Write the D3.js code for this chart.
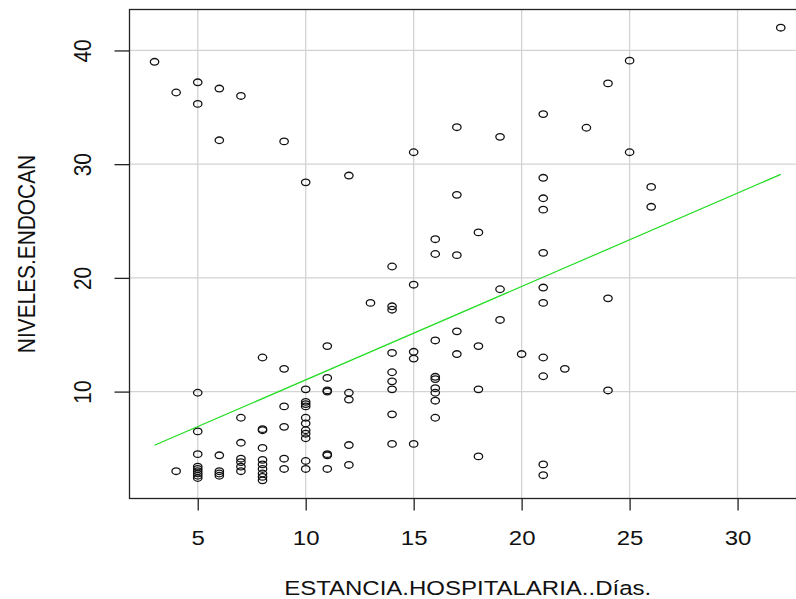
<!DOCTYPE html>
<html>
<head>
<meta charset="utf-8">
<script src="https://cdn.jsdelivr.net/npm/d3@7"></script>
<style>
  body { margin: 0; background: #fff; }
  svg { display: block; }
  text { font-family: "Liberation Sans", Arial, sans-serif; fill: #111; }
</style>
</head>
<body>
<div class="chart"></div>
<script>
// Estancia hospitalaria (días) vs niveles de endocan
var estancia = [
  3,
  4, 4,
  5, 5, 5, 5, 5, 5, 5, 5, 5, 5, 5,
  6, 6, 6, 6, 6, 6,
  7, 7, 7, 7, 7, 7, 7,
  8, 8, 8, 8, 8, 8, 8, 8, 8, 8,
  9, 9, 9, 9, 9, 9,
  10, 10, 10, 10, 10, 10, 10, 10, 10, 10, 10, 10,
  11, 11, 11, 11, 11, 11, 11,
  12, 12, 12, 12, 12,
  13,
  14, 14, 14, 14, 14, 14, 14, 14, 14,
  15, 15, 15, 15, 15,
  16, 16, 16, 16, 16, 16, 16, 16, 16,
  17, 17, 17, 17, 17,
  18, 18, 18, 18,
  19, 19, 19,
  20,
  21, 21, 21, 21, 21, 21, 21, 21, 21, 21, 21,
  22,
  23,
  24, 24, 24,
  25, 25,
  26, 26,
  32
];
var endocan = [
  39.0,
  36.3, 3.0,
  37.2, 35.3, 9.9, 6.5, 4.5, 3.4, 3.2, 3.0, 2.8, 2.6, 2.4,
  36.65, 32.1, 4.4, 3.0, 2.8, 2.6,
  36.0, 7.7, 5.5, 4.1, 3.8, 3.4, 3.0,
  13.0, 6.7, 6.6, 5.05, 4.0, 3.6, 3.2, 2.8, 2.5, 2.2,
  32.0, 12.0, 8.7, 6.9, 4.1, 3.2,
  28.4, 10.2, 9.1, 8.9, 8.7, 7.7, 7.2, 6.6, 6.3, 5.9, 3.9, 3.2,
  14.0, 11.2, 10.1, 10.0, 4.5, 4.4, 3.2,
  29.0, 9.9, 9.3, 5.3, 3.55,
  17.8,
  21.0, 17.5, 17.2, 13.4, 11.7, 10.9, 10.2, 8.0, 5.4,
  31.05, 19.4, 13.5, 12.9, 5.4,
  23.4, 22.1, 14.5, 11.3, 11.1, 10.3, 9.9, 9.2, 7.7,
  33.25, 27.3, 22.0, 15.3, 13.3,
  24.0, 14.0, 10.2, 4.3,
  32.4, 19.0, 16.3,
  13.3,
  34.4, 28.8, 27.0, 26.0, 22.2, 19.15, 17.8, 13.0, 11.35, 3.6, 2.65,
  12.0,
  33.2,
  37.1, 18.2, 10.1,
  39.1, 31.05,
  28.0, 26.25,
  42.0
];
// recta de regresion (extremos)
var fitX = [3, 32];
var fitY = [5.28, 29.1];

var xTicks = [5, 10, 15, 20, 25, 30];
var yTicks = [10, 20, 30, 40];
var xLabel = "ESTANCIA.HOSPITALARIA..Días.";
var yLabel = "NIVELES.ENDOCAN";

var
  width = 796,
  height = 599,
  squash = "scale(1,0.87)";

var x = d3.scaleLinear().domain([1.84, 33.16]).range([129.5, 805.8]);
var y = d3.scaleLinear().domain([0.6, 43.6]).range([498.5, 9.5]);

var svg = d3.select(".chart").append("svg")
  .attr("width", width)
  .attr("height", height);

// grid
svg.append("g").selectAll("line")
  .data(xTicks).enter()
  .append("line")
    .attr("x1", function(d) { return x(d) })
    .attr("x2", function(d) { return x(d) })
    .attr("y1", y.range()[1])
    .attr("y2", y.range()[0])
    .attr("stroke", "#d3d3d3")
    .attr("stroke-width", 1.3);
svg.append("g").selectAll("line")
  .data(yTicks).enter()
  .append("line")
    .attr("x1", x.range()[0])
    .attr("x2", x.range()[1])
    .attr("y1", function(d) { return y(d) })
    .attr("y2", function(d) { return y(d) })
    .attr("stroke", "#d3d3d3")
    .attr("stroke-width", 1.3);

// axes
var xAxis = svg.append("g")
  .attr("transform", "translate(0," + y.range()[0] + ")")
  .call(d3.axisBottom(x).tickValues(xTicks).tickSize(12).tickFormat(d3.format("d")));
var yAxis = svg.append("g")
  .attr("transform", "translate(" + x.range()[0] + ",0)")
  .call(d3.axisLeft(y).tickValues(yTicks).tickSize(15).tickFormat(d3.format("d")));

[xAxis, yAxis].forEach(function(a) {
  a.select(".domain").remove();
  a.selectAll(".tick line").attr("stroke", "#222").attr("stroke-width", 1.3);
  a.selectAll(".tick text").attr("font-size", 24).attr("fill", "#111");
});
xAxis.selectAll(".tick text")
  .attr("y", null).attr("dy", null)
  .attr("text-anchor", "middle")
  .attr("transform", "translate(0,46.5) " + squash);
yAxis.selectAll(".tick text")
  .attr("x", null).attr("dy", null)
  .attr("text-anchor", "middle")
  .attr("transform", "translate(-38.9,0) " + squash + " rotate(-90)");

// frame
svg.append("rect")
  .attr("x", x.range()[0])
  .attr("y", y.range()[1])
  .attr("width", x.range()[1] - x.range()[0])
  .attr("height", y.range()[0] - y.range()[1])
  .attr("fill", "none")
  .attr("stroke", "#222")
  .attr("stroke-width", 1.3);

// points
svg.append("g").selectAll("ellipse")
  .data(estancia).enter()
  .append("ellipse")
    .attr("cx", function(d) { return x(d) })
    .attr("cy", function(d, i) { return y(endocan[i]) })
    .attr("rx", 4.2)
    .attr("ry", 3.3)
    .attr("fill", "none")
    .attr("stroke", "#111")
    .attr("stroke-width", 1.3);

// fit line
svg.append("path")
  .datum(fitX)
  .attr("d", d3.line()
    .x(function(d) { return x(d) })
    .y(function(d, i) { return y(fitY[i]) }))
  .attr("fill", "none")
  .attr("stroke", "#22dd22")
  .attr("stroke-width", 1.2);

// axis titles
svg.append("text")
  .attr("text-anchor", "middle")
  .attr("font-size", 24)
  .attr("transform", "translate(" + ((x.range()[0] + x.range()[1]) / 2) + ",595) " + squash)
  .text(xLabel);
svg.append("text")
  .attr("text-anchor", "middle")
  .attr("font-size", 24)
  .attr("transform", "translate(34.6," + ((y.range()[0] + y.range()[1]) / 2) + ") " + squash + " rotate(-90)")
  .text(yLabel);
</script>
</body>
</html>
